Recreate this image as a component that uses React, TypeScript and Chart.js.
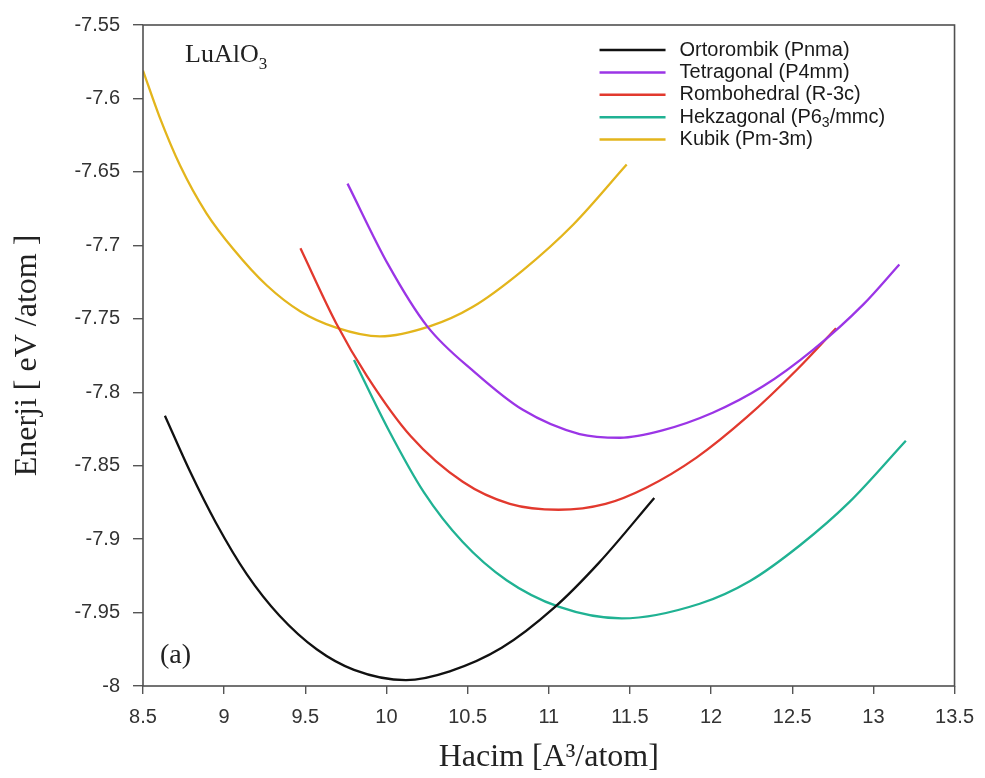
import React, { useEffect, useRef } from 'react';
import { Chart, registerables } from 'chart.js';

Chart.register(...registerables);

// Tick labels
const X_TICKS = [8.5, 9, 9.5, 10, 10.5, 11, 11.5, 12, 12.5, 13, 13.5];
const Y_TICKS = [-8, -7.95, -7.9, -7.85, -7.8, -7.75, -7.7, -7.65, -7.6, -7.55];

// Series
const ORTO_X = [8.635, 8.79, 8.95, 9.14, 9.34, 9.57, 9.8, 10.12, 10.39, 10.71, 11.03, 11.31, 11.65];
const ORTO_Y = [-7.816, -7.854, -7.889, -7.924, -7.952, -7.975, -7.989, -7.996, -7.99, -7.974, -7.947, -7.916, -7.872];

const TETRA_X = [9.76, 10.01, 10.25, 10.55, 10.84, 11.19, 11.44, 11.7, 12.01, 12.32, 12.63, 12.94, 13.16];
const TETRA_Y = [-7.658, -7.713, -7.755, -7.787, -7.812, -7.8285, -7.831, -7.826, -7.814, -7.796, -7.771, -7.74, -7.713];

const ROMBO_X = [9.47, 9.69, 9.88, 10.15, 10.47, 10.76, 11.06, 11.35, 11.6, 11.91, 12.22, 12.53, 12.77];
const ROMBO_Y = [-7.702, -7.753, -7.789, -7.83, -7.861, -7.876, -7.88, -7.876, -7.865, -7.8445, -7.817, -7.7845, -7.7565];

const HEKZA_X = [9.8, 10.01, 10.23, 10.47, 10.74, 11.06, 11.45, 11.93, 12.24, 12.55, 12.85, 13.2];
const HEKZA_Y = [-7.778, -7.825, -7.868, -7.902, -7.928, -7.946, -7.954, -7.944, -7.9285, -7.904, -7.875, -7.833];

const KUBIK_X = [8.5, 8.6, 8.73, 8.89, 9.06, 9.26, 9.47, 9.69, 9.96, 10.27, 10.53, 10.84, 11.15, 11.48];
const KUBIK_Y = [-7.581, -7.612, -7.646, -7.678, -7.703, -7.727, -7.745, -7.756, -7.762, -7.755, -7.742, -7.717, -7.686, -7.645];

const SERIES_LABELS = [
  'Ortorombik (Pnma)',
  'Tetragonal (P4mm)',
  'Rombohedral (R-3c)',
  'Hekzagonal (P6\u2083/mmc)',
  'Kubik (Pm-3m)',
];
const SERIES_COLORS = ['#111111', '#9b35e6', '#e2392e', '#20b293', '#e3b51c'];

const X_TITLE = 'Hacim [A\u00b3/atom]';
const Y_TITLE = 'Enerji [ eV /atom ]';
const COMPOUND = 'LuAlO';
const COMPOUND_SUB = '3';
const PANEL = '(a)';

const SANS = '"Liberation Sans", Arial, Helvetica, sans-serif';
const SERIF = '"Liberation Serif", "Times New Roman", serif';

function zip(xs: number[], ys: number[]) {
  return xs.map((x, i) => ({ x, y: ys[i] }));
}

function fmt(v: number) {
  return String(Math.round(v * 100) / 100);
}

const decorPlugin = {
  id: 'decor',
  afterDatasetsDraw(chart: any) {
    const { ctx, chartArea } = chart;
    const { left, right, top, bottom } = chartArea;
    ctx.save();
    // frame
    ctx.strokeStyle = '#505050';
    ctx.lineWidth = 1.6;
    ctx.strokeRect(left, top, right - left, bottom - top);

    // compound label
    ctx.fillStyle = '#222';
    ctx.textBaseline = 'alphabetic';
    ctx.textAlign = 'left';
    ctx.font = `26px ${SERIF}`;
    const cx = left + 42;
    const cy = top + 37;
    ctx.fillText(COMPOUND, cx, cy);
    const w = ctx.measureText(COMPOUND).width;
    ctx.font = `17px ${SERIF}`;
    ctx.fillText(COMPOUND_SUB, cx + w, cy + 7);

    // panel label
    ctx.font = `28px ${SERIF}`;
    ctx.fillText(PANEL, left + 17, bottom - 23);

    // legend
    const lineX0 = right - 355;
    const lineX1 = right - 289;
    const textX = right - 275;
    const y0 = top + 25;
    const dy = 22.4;
    chart.data.datasets.forEach((ds: any, i: number) => {
      const y = y0 + i * dy;
      ctx.strokeStyle = ds.borderColor;
      ctx.lineWidth = 2.5;
      ctx.beginPath();
      ctx.moveTo(lineX0, y);
      ctx.lineTo(lineX1, y);
      ctx.stroke();
      ctx.fillStyle = '#1a1a1a';
      ctx.textBaseline = 'middle';
      const parts = String(ds.label).split('\u2083');
      let x = textX;
      parts.forEach((p: string, k: number) => {
        ctx.font = `20px ${SANS}`;
        ctx.fillText(p, x, y);
        x += ctx.measureText(p).width;
        if (k < parts.length - 1) {
          ctx.font = `14px ${SANS}`;
          ctx.fillText('3', x, y + 6);
          x += ctx.measureText('3').width;
        }
      });
    });
    ctx.restore();
  },
};

export default function App() {
  const canvasRef = useRef<HTMLCanvasElement | null>(null);

  useEffect(() => {
    document.body.style.margin = '0';
    const canvas = canvasRef.current;
    if (!canvas) return;

    const seriesX = [ORTO_X, TETRA_X, ROMBO_X, HEKZA_X, KUBIK_X];
    const seriesY = [ORTO_Y, TETRA_Y, ROMBO_Y, HEKZA_Y, KUBIK_Y];

    const datasets = SERIES_LABELS.map((label, i) => ({
      label,
      data: zip(seriesX[i], seriesY[i]),
      borderColor: SERIES_COLORS[i],
      backgroundColor: SERIES_COLORS[i],
      borderWidth: 2.3,
      pointRadius: 0,
      fill: false,
      cubicInterpolationMode: 'monotone' as const,
    }));

    const tickGrid = {
      display: true,
      drawOnChartArea: false,
      drawTicks: true,
      color: '#555',
      lineWidth: 1.4,
    };

    const chart = new Chart(canvas, {
      type: 'line',
      data: { datasets },
      plugins: [decorPlugin],
      options: {
        animation: false,
        responsive: true,
        maintainAspectRatio: false,
        events: [],
        layout: { padding: { top: 19, right: 30, left: 0, bottom: 0 } },
        plugins: {
          legend: { display: false },
          tooltip: { enabled: false },
        },
        scales: {
          x: {
            type: 'linear',
            min: 8.5,
            max: 13.5,
            border: { display: false },
            grid: { ...tickGrid, tickLength: 8 },
            afterBuildTicks: (scale: any) => {
              scale.ticks = X_TICKS.map((v) => ({ value: v }));
            },
            afterFit: (scale: any) => {
              scale.height = 92;
            },
            ticks: {
              color: '#333',
              font: { family: SANS, size: 20 },
              padding: 11,
              maxRotation: 0,
              autoSkip: false,
              callback: (v: any) => fmt(Number(v)),
            },
            title: {
              display: true,
              text: X_TITLE,
              color: '#222',
              font: { family: SERIF, size: 32 },
              padding: { top: 0, bottom: 1 },
            },
          },
          y: {
            type: 'linear',
            min: -8,
            max: -7.55,
            border: { display: false },
            grid: { ...tickGrid, tickLength: 10 },
            afterBuildTicks: (scale: any) => {
              scale.ticks = Y_TICKS.map((v) => ({ value: v }));
            },
            afterFit: (scale: any) => {
              scale.width = 143;
            },
            ticks: {
              color: '#333',
              font: { family: SANS, size: 20 },
              padding: 13,
              autoSkip: false,
              callback: (v: any) => fmt(Number(v)),
            },
            title: {
              display: true,
              text: Y_TITLE,
              color: '#222',
              font: { family: SERIF, size: 32 },
              padding: { top: 8, bottom: 0 },
            },
          },
        },
      },
    } as any);

    return () => {
      chart.destroy();
    };
  }, []);

  return (
    <div style={{ position: 'relative', width: '985px', height: '778px' }}>
      <canvas ref={canvasRef} />
    </div>
  );
}
